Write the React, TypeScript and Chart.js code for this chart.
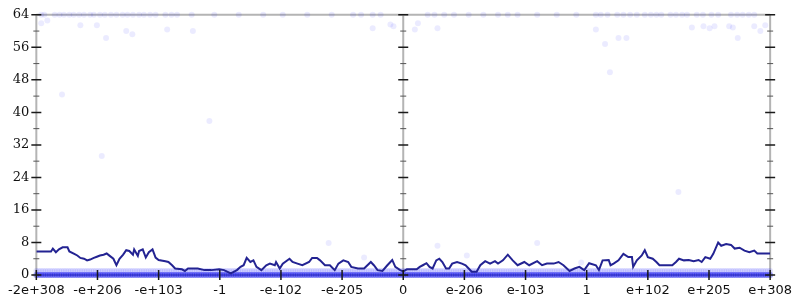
import React, { useEffect, useRef } from "react";
import { Chart, registerables } from "chart.js";
Chart.register(...registerables);

const xTickLabels = ["-2e+308", "-e+206", "-e+103", "-1", "-e-102", "-e-205", "0", "e-206", "e-103", "1", "e+102", "e+205", "e+308"];
const yMin = 0;
const yMax = 64;
const yStep = 8;

// moving average line (x in tick-label units, y value)
const avgX = [0.00, 0.24, 0.27, 0.32, 0.37, 0.43, 0.51, 0.54, 0.62, 0.67, 0.72, 0.78, 0.83, 0.88, 0.94, 0.99, 1.04, 1.10, 1.15, 1.20, 1.26, 1.31, 1.36, 1.42, 1.47, 1.52, 1.58, 1.60, 1.66, 1.68, 1.74, 1.79, 1.84, 1.90, 1.95, 2.00, 2.11, 2.16, 2.22, 2.27, 2.38, 2.43, 2.48, 2.64, 2.75, 2.86, 2.99, 3.07, 3.18, 3.28, 3.34, 3.39, 3.44, 3.50, 3.55, 3.60, 3.68, 3.76, 3.82, 3.90, 3.92, 3.98, 4.03, 4.14, 4.19, 4.27, 4.35, 4.46, 4.51, 4.59, 4.64, 4.72, 4.80, 4.88, 4.94, 5.02, 5.10, 5.15, 5.26, 5.36, 5.47, 5.52, 5.58, 5.66, 5.74, 5.82, 5.87, 5.95, 6.00, 6.06, 6.22, 6.27, 6.32, 6.38, 6.43, 6.48, 6.54, 6.59, 6.64, 6.70, 6.75, 6.80, 6.88, 6.96, 7.02, 7.07, 7.12, 7.20, 7.26, 7.34, 7.42, 7.50, 7.55, 7.63, 7.71, 7.79, 7.87, 7.98, 8.06, 8.19, 8.27, 8.35, 8.46, 8.54, 8.62, 8.72, 8.80, 8.88, 8.96, 9.04, 9.15, 9.20, 9.26, 9.36, 9.39, 9.44, 9.52, 9.60, 9.68, 9.74, 9.76, 9.82, 9.90, 9.95, 10.00, 10.08, 10.14, 10.19, 10.32, 10.40, 10.46, 10.51, 10.59, 10.67, 10.75, 10.83, 10.88, 10.94, 11.02, 11.07, 11.15, 11.20, 11.28, 11.36, 11.42, 11.50, 11.58, 11.66, 11.74, 11.79, 12.00];
const avgY = [5.8, 5.8, 6.5, 5.6, 6.3, 6.8, 6.8, 5.8, 5.2, 4.8, 4.2, 4.0, 3.6, 3.8, 4.2, 4.5, 4.8, 5.0, 5.3, 4.7, 4.0, 2.4, 4.0, 5.0, 6.1, 5.9, 5.0, 6.3, 4.7, 5.9, 6.3, 4.3, 5.6, 6.3, 4.3, 3.7, 3.4, 3.2, 2.4, 1.6, 1.4, 1.0, 1.6, 1.6, 1.2, 1.2, 1.4, 1.2, 0.4, 1.2, 2.0, 2.4, 4.2, 3.2, 3.6, 2.0, 1.2, 2.4, 2.8, 2.4, 3.2, 1.6, 2.8, 4.0, 3.2, 2.8, 2.4, 3.2, 4.2, 4.2, 3.6, 2.4, 2.4, 1.2, 2.8, 3.6, 3.2, 2.0, 1.6, 1.6, 3.2, 2.4, 1.2, 1.0, 2.4, 3.7, 2.0, 1.2, 0.9, 1.4, 1.4, 2.0, 2.4, 2.9, 2.0, 1.6, 3.6, 4.0, 3.2, 1.6, 1.6, 2.8, 3.2, 2.8, 2.4, 1.6, 0.8, 0.8, 2.4, 3.4, 2.8, 3.4, 2.8, 3.6, 5.0, 3.6, 2.4, 3.2, 2.4, 3.4, 2.4, 2.8, 2.8, 3.2, 2.4, 1.0, 1.6, 2.0, 1.2, 2.9, 2.4, 1.2, 3.6, 3.7, 2.4, 2.8, 3.6, 5.2, 4.4, 4.4, 2.0, 3.6, 4.8, 6.1, 4.4, 4.0, 3.2, 2.4, 2.4, 2.4, 3.2, 4.0, 3.6, 3.7, 3.4, 3.7, 3.2, 4.4, 4.0, 5.2, 8.0, 7.2, 7.6, 7.4, 6.5, 6.7, 6.0, 5.6, 6.0, 5.3, 5.3];

// dense sample band: every sample position carries these low values
const bandLevels = [0, 1];
const bandSampleCount = 320;

// samples sitting at the maximum value 64
const topX = [0.08, 0.13, 0.30, 0.38, 0.45, 0.54, 0.61, 0.70, 0.78, 0.88, 0.94, 1.04, 1.12, 1.22, 1.31, 1.41, 1.49, 1.58, 1.68, 1.76, 1.86, 1.95, 2.11, 2.21, 2.30, 2.54, 2.91, 3.31, 3.71, 4.03, 4.43, 4.83, 5.18, 5.31, 5.50, 5.63, 6.40, 6.51, 6.67, 6.83, 7.07, 7.31, 7.55, 7.71, 7.87, 8.19, 8.51, 8.83, 9.15, 9.23, 9.34, 9.50, 9.60, 9.71, 9.82, 9.95, 10.05, 10.14, 10.22, 10.37, 10.46, 10.56, 10.64, 10.80, 10.90, 11.04, 11.15, 11.36, 11.46, 11.55, 11.65, 11.74];
const topValue = 64;

// isolated samples
const looseX = [0.08, 0.18, 0.72, 0.99, 1.14, 1.47, 1.57, 2.14, 2.56, 0.42, 9.15, 9.30, 9.52, 9.65, 10.72, 10.91, 11.01, 11.09, 11.33, 11.39, 11.47, 11.74, 11.84, 11.92, 9.38, 5.50, 5.79, 5.84, 6.19, 6.24, 6.56, 4.78, 5.36, 6.56, 7.04, 8.19, 8.91, 1.07, 2.83, 10.50];
const looseY = [61.9, 62.6, 61.4, 61.4, 58.3, 60.0, 59.2, 60.4, 60.0, 44.4, 60.4, 56.8, 58.3, 58.3, 60.9, 61.2, 60.7, 61.2, 61.2, 60.9, 58.3, 61.2, 60.0, 61.4, 49.9, 60.7, 61.6, 61.2, 60.4, 61.9, 60.7, 7.9, 4.3, 7.2, 4.8, 7.9, 3.1, 29.3, 37.9, 20.4];

const axisGray = "#b4b4b4";
const lineColor = "#232392";
const sampleColor = "rgba(0,0,255,0.08)";

export default function App() {
  const ref = useRef<HTMLCanvasElement>(null);

  useEffect(() => {
    if (!ref.current) return;
    const xMax = xTickLabels.length - 1;
    const bandData = (level: number) =>
      Array.from({ length: bandSampleCount + 1 }, (_, i) => ({ x: (i * xMax) / bandSampleCount, y: level }));

    const framePlugin = {
      id: "frame",
      beforeDatasetsDraw(chart: any) {
        const { ctx, chartArea } = chart;
        const xs = chart.scales.x;
        ctx.save();
        ctx.strokeStyle = axisGray;
        ctx.lineWidth = 2;
        ctx.beginPath();
        ctx.moveTo(chartArea.left, chartArea.top);
        ctx.lineTo(chartArea.right, chartArea.top);
        [0, xMax / 2, xMax].forEach((v) => {
          const px = xs.getPixelForValue(v);
          ctx.moveTo(px, chartArea.top);
          ctx.lineTo(px, chartArea.bottom);
        });
        ctx.moveTo(chartArea.left, chartArea.bottom);
        ctx.lineTo(chartArea.right, chartArea.bottom);
        ctx.stroke();
        ctx.restore();
      },
      afterDatasetsDraw(chart: any) {
        const { ctx, chartArea } = chart;
        const xs = chart.scales.x;
        const ys = chart.scales.y;
        ctx.save();
        const axesX = [0, xMax / 2, xMax].map((v) => xs.getPixelForValue(v));
        for (let v = yMin; v <= yMax; v += yStep / 2) {
          const py = ys.getPixelForValue(v);
          const major = v % yStep === 0;
          ctx.strokeStyle = major ? "#1a1a1a" : "#555";
          ctx.lineWidth = major ? 1.5 : 1;
          const h = major ? 5 : 3;
          ctx.beginPath();
          axesX.forEach((px) => {
            ctx.moveTo(px - h, py);
            ctx.lineTo(px + h, py);
          });
          ctx.stroke();
        }
        ctx.strokeStyle = "#1a1a1a";
        ctx.lineWidth = 1.5;
        ctx.beginPath();
        xTickLabels.forEach((_, i) => {
          const px = xs.getPixelForValue(i);
          ctx.moveTo(px, chartArea.bottom - 5);
          ctx.lineTo(px, chartArea.bottom + 5);
        });
        ctx.stroke();
        ctx.restore();
      },
    };

    const chart = new Chart(ref.current, {
      type: "scatter",
      data: {
        datasets: [
          {
            label: "average",
            data: avgX.map((x, i) => ({ x, y: avgY[i] })),
            showLine: true,
            borderColor: lineColor,
            borderWidth: 2,
            pointRadius: 0,
            fill: false,
            tension: 0,
          } as any,
          {
            label: "loose",
            data: looseX.map((x, i) => ({ x, y: looseY[i] })),
            pointRadius: 3,
            pointBorderWidth: 0,
            borderWidth: 0,
            backgroundColor: sampleColor,
            clip: false,
          } as any,
          {
            label: "top",
            data: topX.map((x) => ({ x, y: topValue })),
            pointRadius: 3,
            pointBorderWidth: 0,
            borderWidth: 0,
            backgroundColor: sampleColor,
            clip: false,
          } as any,
          {
            label: "one",
            data: bandData(bandLevels[1]),
            pointRadius: 3,
            pointBorderWidth: 0,
            borderWidth: 0,
            backgroundColor: "rgba(0,0,255,0.1)",
            clip: false,
          } as any,
          {
            label: "zero",
            data: bandData(bandLevels[0]),
            pointRadius: 3,
            pointBorderWidth: 0,
            borderWidth: 0,
            backgroundColor: "rgba(0,0,230,0.35)",
            clip: false,
          } as any,
        ],
      },
      options: {
        animation: false,
        responsive: true,
        maintainAspectRatio: false,
        layout: { padding: { top: 8, right: 22, left: 0, bottom: 0 } },
        plugins: { legend: { display: false }, tooltip: { enabled: false } },
        events: [],
        scales: {
          x: {
            type: "linear",
            min: 0,
            max: xMax,
            border: { display: false },
            grid: { display: false, drawTicks: false },
            afterBuildTicks: (scale: any) => {
              scale.ticks = xTickLabels.map((_, i) => ({ value: i }));
            },
            afterFit: (scale: any) => {
              scale.height = 25;
            },
            ticks: {
              autoSkip: false,
              maxRotation: 0,
              padding: 8,
              color: "#111",
              font: { family: "'DejaVu Sans'", size: 13 },
              callback: (v: any) => xTickLabels[Math.round(Number(v))] ?? "",
            },
          },
          y: {
            type: "linear",
            min: yMin,
            max: yMax,
            border: { display: false },
            grid: { display: false, drawTicks: false },
            afterFit: (scale: any) => {
              scale.width = 28;
            },
            ticks: {
              stepSize: yStep,
              padding: 7,
              color: "#111",
              font: { family: "'DejaVu Serif'", size: 13 },
            },
          },
        },
      },
      plugins: [framePlugin],
    });
    return () => chart.destroy();
  }, []);

  return (
    <div style={{ position: "fixed", left: 0, top: 0, width: 800, height: 300, background: "#fff" }}>
      <canvas ref={ref} />
    </div>
  );
}
